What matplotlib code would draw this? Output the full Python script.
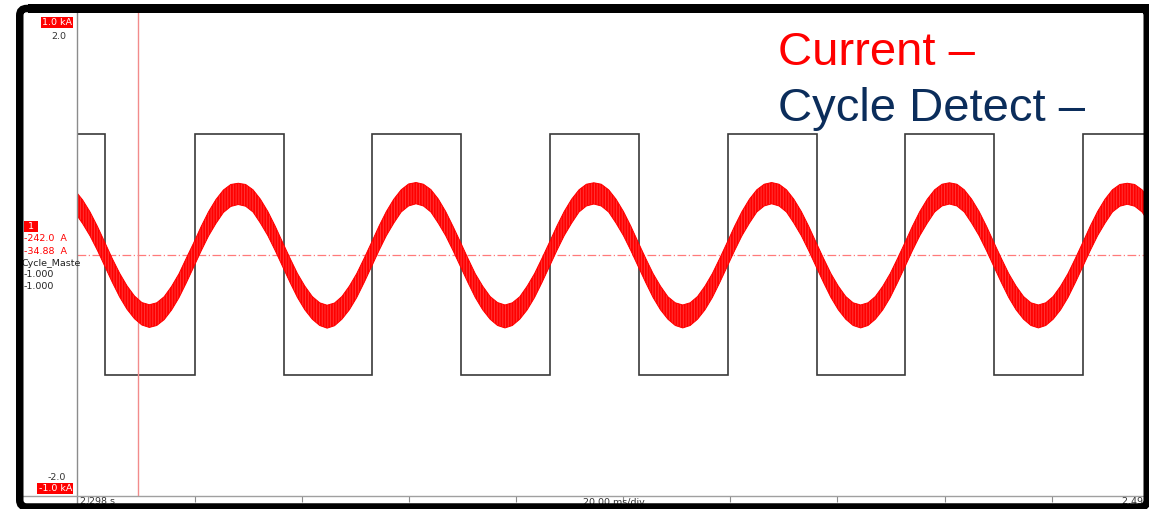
import matplotlib
matplotlib.use("Agg")
import matplotlib.pyplot as plt
from matplotlib.patches import FancyBboxPatch, Rectangle

W, H = 1149, 509

# time axis: ms after 2.298 s (20 ms/div)
div_ticks = [2, 22, 42, 62, 82, 102, 122, 142, 162, 182]

# Cycle_Master square wave (edges in ms, levels)
cycle_edges = [0, 5.2, 22.0, 38.7, 55.1, 71.7, 88.3, 104.9, 121.6, 138.2,
               154.6, 171.2, 187.9, 200]
cycle_levels = [1, -1, 1, -1, 1, -1, 1, -1, 1, -1, 1, -1, 1]

# Current (kA): upper / lower envelope of the rippled waveform
current_t = [
    -0.33, 1.05, 2.44, 3.82, 5.20, 6.59, 7.97, 9.35, 10.74, 12.12, 13.51, 14.89,
    16.27, 17.66, 19.04, 20.42, 21.81, 23.19, 24.57, 25.96, 27.34, 28.72, 30.11, 31.49,
    32.87, 34.25, 35.64, 37.02, 38.40, 39.79, 41.17, 42.55, 43.94, 45.32, 46.71, 48.09,
    49.47, 50.86, 52.24, 53.62, 55.01, 56.39, 57.77, 59.16, 60.54, 61.92, 63.31, 64.69,
    66.08, 67.46, 68.85, 70.23, 71.61, 73.00, 74.38, 75.76, 77.15, 78.53, 79.92, 81.30,
    82.68, 84.07, 85.45, 86.83, 88.22, 89.60, 90.98, 92.37, 93.75, 95.13, 96.52, 97.90,
    99.28, 100.66, 102.05, 103.43, 104.81, 106.20, 107.58, 108.96, 110.35, 111.73, 113.12, 114.50,
    115.88, 117.27, 118.65, 120.03, 121.42, 122.80, 124.18, 125.57, 126.95, 128.33, 129.72, 131.10,
    132.49, 133.87, 135.26, 136.64, 138.02, 139.41, 140.79, 142.17, 143.56, 144.94, 146.33, 147.71,
    149.09, 150.48, 151.86, 153.24, 154.63, 156.01, 157.39, 158.78, 160.16, 161.54, 162.93, 164.31,
    165.69, 167.07, 168.46, 169.84, 171.22, 172.61, 173.99, 175.37, 176.76, 178.14, 179.53, 180.91,
    182.29, 183.68, 185.06, 186.44, 187.83, 189.21, 190.59, 191.98, 193.36, 194.74, 196.13, 197.51,
    198.89, 200.27, 201.66]
current_hi = [
    0.264, 0.226, 0.176, 0.116, 0.050, -0.017, -0.078, -0.130, -0.172, -0.199, -0.208, -0.200,
    -0.175, -0.132, -0.080, -0.015, 0.049, 0.116, 0.177, 0.228, 0.267, 0.290, 0.295, 0.290,
    0.268, 0.229, 0.178, 0.117, 0.050, -0.016, -0.079, -0.131, -0.174, -0.200, -0.210, -0.201,
    -0.174, -0.131, -0.079, -0.016, 0.050, 0.117, 0.178, 0.229, 0.268, 0.292, 0.298, 0.291,
    0.269, 0.230, 0.178, 0.116, 0.051, -0.016, -0.080, -0.131, -0.174, -0.199, -0.209, -0.200,
    -0.175, -0.131, -0.079, -0.016, 0.050, 0.117, 0.178, 0.229, 0.268, 0.291, 0.297, 0.291,
    0.268, 0.229, 0.178, 0.117, 0.050, -0.016, -0.079, -0.131, -0.175, -0.200, -0.209, -0.200,
    -0.174, -0.131, -0.079, -0.016, 0.050, 0.117, 0.178, 0.229, 0.268, 0.291, 0.298, 0.291,
    0.268, 0.229, 0.178, 0.117, 0.050, -0.016, -0.079, -0.131, -0.174, -0.200, -0.209, -0.200,
    -0.174, -0.131, -0.079, -0.016, 0.050, 0.117, 0.178, 0.229, 0.268, 0.291, 0.297, 0.291,
    0.268, 0.229, 0.178, 0.117, 0.050, -0.016, -0.079, -0.131, -0.174, -0.200, -0.209, -0.200,
    -0.174, -0.131, -0.079, -0.016, 0.050, 0.117, 0.178, 0.229, 0.268, 0.290, 0.295, 0.290,
    0.268, 0.229, 0.178]
current_lo = [
    0.172, 0.128, 0.077, 0.017, -0.049, -0.115, -0.176, -0.227, -0.266, -0.292, -0.302, -0.294,
    -0.270, -0.230, -0.179, -0.117, -0.051, 0.015, 0.077, 0.129, 0.174, 0.199, 0.207, 0.200,
    0.176, 0.130, 0.078, 0.016, -0.050, -0.116, -0.178, -0.229, -0.268, -0.294, -0.305, -0.295,
    -0.268, -0.229, -0.178, -0.116, -0.050, 0.016, 0.078, 0.130, 0.176, 0.201, 0.210, 0.201,
    0.176, 0.130, 0.078, 0.016, -0.050, -0.116, -0.178, -0.229, -0.268, -0.294, -0.304, -0.294,
    -0.268, -0.229, -0.178, -0.116, -0.050, 0.016, 0.078, 0.130, 0.176, 0.201, 0.209, 0.201,
    0.176, 0.130, 0.078, 0.016, -0.050, -0.116, -0.178, -0.229, -0.268, -0.294, -0.304, -0.294,
    -0.268, -0.229, -0.178, -0.116, -0.050, 0.016, 0.078, 0.130, 0.176, 0.201, 0.210, 0.201,
    0.176, 0.130, 0.078, 0.016, -0.050, -0.116, -0.178, -0.229, -0.268, -0.294, -0.304, -0.294,
    -0.268, -0.229, -0.178, -0.116, -0.050, 0.016, 0.078, 0.130, 0.176, 0.201, 0.209, 0.201,
    0.176, 0.130, 0.078, 0.016, -0.050, -0.116, -0.178, -0.229, -0.268, -0.294, -0.304, -0.294,
    -0.268, -0.229, -0.178, -0.116, -0.050, 0.016, 0.078, 0.130, 0.176, 0.200, 0.208, 0.200,
    0.176, 0.130, 0.078]

cursor_t = 11.4
current_zero = 0.0

plt.rcParams["hatch.linewidth"] = 1.3

fig = plt.figure(figsize=(W / 100, H / 100), dpi=100, facecolor="white")


def fig_box(x0, y0, x1, y1):
    # pixel box (top-left origin) -> figure fraction rect
    return [x0 / W, 1 - y1 / H, (x1 - x0) / W, (y1 - y0) / H]


ax = fig.add_axes(fig_box(77, 13, 1148, 496))
ax.stairs(cycle_levels, cycle_edges, baseline=None, color="#3a3a3a", lw=1.2)
ax.set_xlim(0, 200)
ax.set_ylim(-2, 2)
ax.set_xticks(div_ticks)
ax.set_yticks([])
ax.tick_params(axis="x", direction="out", length=4, width=0.8, color="#8c8c8c",
               labelbottom=False)
for s in ("top", "right", "left", "bottom"):
    ax.spines[s].set_visible(False)

ax2 = ax.twinx()
ax2.set_ylim(-1, 1)
ax2.set_yticks([])
for s in ax2.spines.values():
    s.set_visible(False)
ax2.axhline(current_zero, color="#ff7a7a", lw=0.9, ls=(0, (7, 2, 1, 2)), zorder=1)
ax2.axvline(cursor_t, color="#f28b8b", lw=1.0, zorder=1)
ax2.fill_between(current_t, current_lo, current_hi, facecolor="#ff3535",
                 edgecolor="#ff0000", hatch="||||||", lw=0.7, zorder=3)

# overlay in pixel coordinates for the scope frame and labels
ov = fig.add_axes([0, 0, 1, 1])
ov.set_xlim(0, W)
ov.set_ylim(H, 0)
ov.axis("off")
ov.patch.set_alpha(0)
ov.set_zorder(10)

ov.plot([77, 77], [13, 505], color="#8c8c8c", lw=1.0)
ov.plot([23, 1149], [496, 496], color="#a0a0a0", lw=1.0)

small = dict(family="DejaVu Sans", fontsize=6.8)
box = dict(boxstyle="square,pad=0.12", fc="#ff0000", ec="none")
ov.text(72, 22.5, "1.0 kA", color="white", ha="right", va="center", bbox=box, **small)
ov.text(66, 36, "2.0", color="#333333", ha="right", va="center", **small)
ov.text(66, 477, "-2.0", color="#333333", ha="right", va="center", **small)
ov.text(72, 488.5, "-1.0 kA", color="white", ha="right", va="center", bbox=box, **small)
ov.text(25, 226.5, " 1 ", color="white", ha="left", va="center", bbox=box, **small)
ov.text(24, 238.5, "-242.0  A", color="#ff0000", ha="left", va="center", **small)
ov.text(24, 251, "-34.88  A", color="#ff0000", ha="left", va="center", **small)
ov.text(21, 263, "Cycle_Maste", color="#222222", ha="left", va="center", **small)
ov.text(24, 274.5, "-1.000", color="#222222", ha="left", va="center", **small)
ov.text(24, 286.5, "-1.000", color="#222222", ha="left", va="center", **small)

ov.text(80, 497.5, "2.298 s", color="#333333", ha="left", va="top", **small)
ov.text(614, 497.5, "20.00 ms/div", color="#333333", ha="center", va="top", **small)
ov.text(1122, 497.5, "2.498 s", color="#333333", ha="left", va="top", **small)

big = dict(family="Liberation Sans", fontsize=34, va="baseline", ha="left")
ov.text(778, 65, "Current \u2013", color="#ff0000", **big)
ov.text(778, 121, "Cycle Detect \u2013", color="#0b2d5b", **big)

# black screenshot frame with rounded top-left corner
frame = FancyBboxPatch((19.75, 8.5), 1127.5, 498.5,
                       boxstyle="round,pad=0,rounding_size=7",
                       fill=False, ec="black", lw=7.5 * 72 / 100, zorder=20)
ov.add_patch(frame)
ov.add_patch(Rectangle((28, 4), 1125, 9, fc="black", ec="none", zorder=20))

fig.savefig("out.png", dpi=100, facecolor="white")
